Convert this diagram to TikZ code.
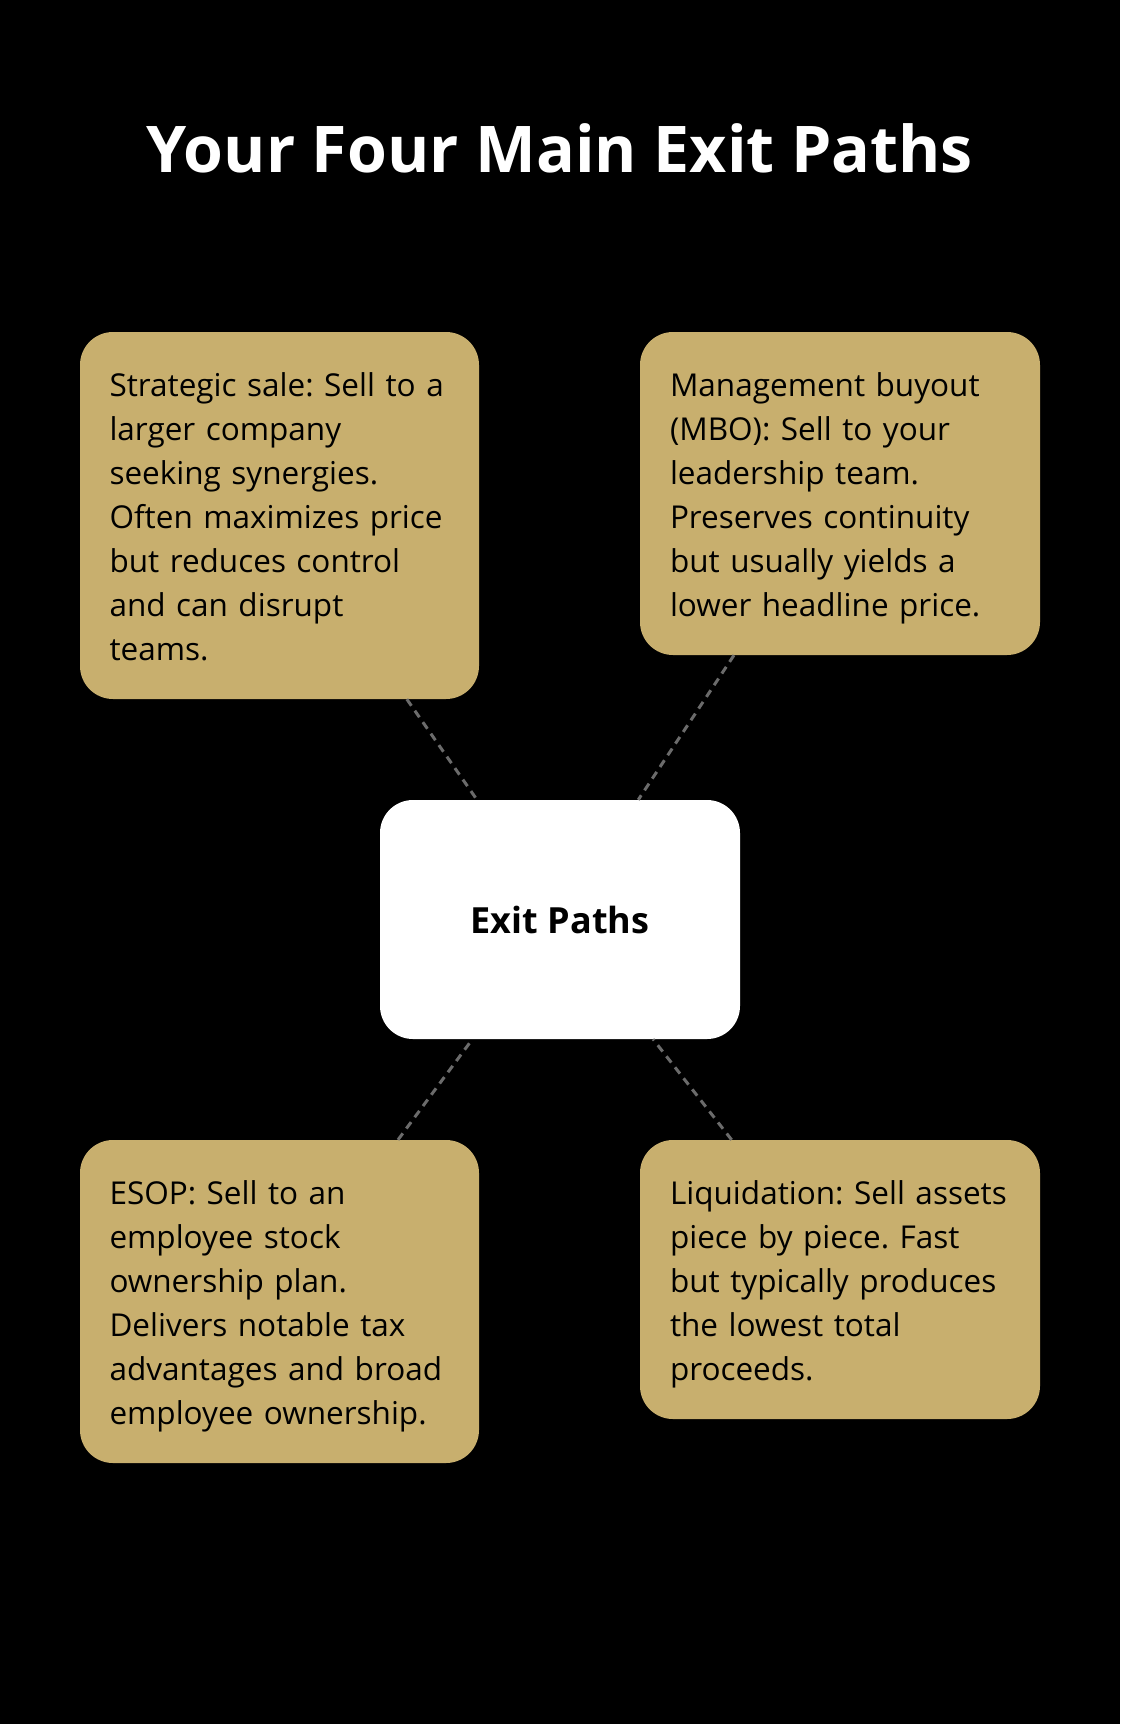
\documentclass[tikz,border=0pt]{standalone}
\usepackage{fontspec}
\setmainfont{Open Sans}
\definecolor{gold}{HTML}{C8AF6E}
\definecolor{linegray}{HTML}{6B6B6B}
\newcommand\firststrut{\rule{0pt}{34.5pt}}
\newcommand\laststrut{\rule[-9.5pt]{0pt}{9.5pt}}
\begin{document}
\frenchspacing
\begin{tikzpicture}[x=1pt,y=-1pt,
  card/.style={fill=gold, rounded corners=33pt, draw=none, inner sep=0pt,
    text=black, align=left, text width=340pt, font=\fontsize{31.5}{44}\selectfont},
  hub/.style={fill=white, rounded corners=33pt, draw=none, inner sep=0pt,
    text=black, font=\fontsize{36}{44}\selectfont\bfseries,
    minimum width=360pt, minimum height=239pt},
  link/.style={draw=linegray, line width=3pt, dash pattern=on 8pt off 6pt}]
\fill[black] (0,0) rectangle (1120,1724);
\useasboundingbox (0,0) rectangle (1120,1724);
\node[text=white, font=\fontsize{64.4}{70}\selectfont\bfseries] (title) at (560,148) {Your Four Main Exit Paths};

\node[card, minimum width=399pt, minimum height=367pt] (tl) at (279.5,515.5)
 {\firststrut Strategic sale: Sell to a\\larger company\\seeking synergies.\\Often maximizes price\\but reduces control\\and can disrupt\\teams.\laststrut};
\node[card, minimum width=400pt, minimum height=323pt] (tr) at (840,493.5)
 {\firststrut Management buyout\\(MBO): Sell to your\\leadership team.\\Preserves continuity\\but usually yields a\\lower headline price.\laststrut};
\node[hub] (c) at (560,919.5) {Exit Paths};
\node[card, minimum width=399pt, minimum height=323pt] (bl) at (279.5,1301.5)
 {\firststrut ESOP: Sell to an\\employee stock\\ownership plan.\\Delivers notable tax\\advantages and broad\\employee ownership.\laststrut};
\node[card, minimum width=400pt, minimum height=279pt] (br) at (840,1279.5)
 {\firststrut Liquidation: Sell assets\\piece by piece. Fast\\but typically produces\\the lowest total\\proceeds.\laststrut};

\draw[link] (tl) -- (c);
\draw[link] (tr) -- (c);
\draw[link] (bl) -- (c);
\draw[link] (br) -- (c);
\end{tikzpicture}
\end{document}
